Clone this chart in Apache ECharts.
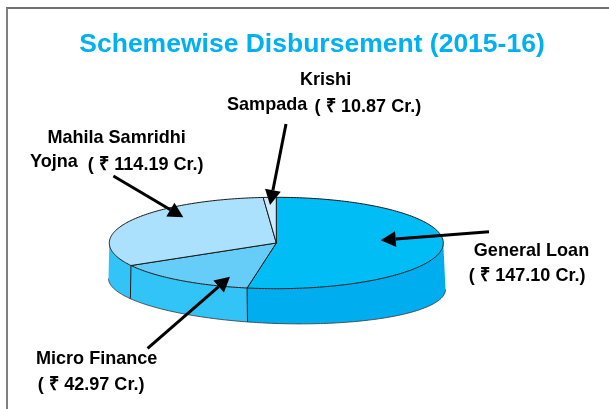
<!DOCTYPE html>
<html><head><meta charset="utf-8">
<style>html,body{margin:0;padding:0;background:#fff}#c{width:609px;height:409px}</style>
<script src="https://cdn.jsdelivr.net/npm/echarts@6/dist/echarts.min.js"></script>
</head><body><div id="c"></div>
<script>
const titleText = 'Schemewise Disbursement (2015-16)';
const categories = ['General Loan', 'Micro Finance', 'Mahila Samridhi Yojna', 'Krishi Sampada'];
// Amounts printed on the labels (Rs. crore)
const labelledAmounts = ['147.10', '42.97', '114.19', '10.87'];
// Slice sizes as actually drawn in the picture, percent of the full circle
const drawnShares = [52.8, 14.0, 31.95, 1.25];
const topColors = ['#00BDF6', '#66CDF8', '#ABE1FD', '#CDEDFC'];
const sideColors = ['#00AEEF', '#33C4F7', '#33C4F7', '#33C4F7'];

const FONT = '"Liberation Sans", Arial, sans-serif';
const upperE = {cx: 276.3, cy: 243, rx: 167, ry: 45.7};
const lowerE = {cx: 277, cy: 284, rx: 168.5, ry: 39.5, k: 5.5};
const rad = d => d * Math.PI / 180;
const upper = t => [upperE.cx + upperE.rx * Math.sin(rad(t)), upperE.cy - upperE.ry * Math.cos(rad(t))];
const lower = t => [lowerE.cx + lowerE.rx * Math.sin(rad(t)), lowerE.cy - lowerE.ry * Math.cos(rad(t)) + lowerE.k * Math.sin(rad(t))];
const range = (a, b) => { const o = []; for (let t = a; t < b; t += 1) o.push(t); o.push(b); return o; };
const LINE = {stroke: '#1a1a1a', lineWidth: 1};

function renderSlice(params, api) {
  const i = api.value(0);
  let start = 0;
  for (let j = 0; j < i; j++) start += drawnShares[j] * 3.6;
  const end = start + api.value(1) * 3.6;
  const children = [];
  const a = Math.max(start, 90), b = Math.min(end, 270);
  if (b > a) {
    const ts = range(a, b);
    children.push({type: 'polygon', z2: 1,
      shape: {points: ts.map(upper).concat(ts.slice().reverse().map(lower))},
      style: {fill: sideColors[i], stroke: 'none'}});
    children.push({type: 'polyline', z2: 2, shape: {points: ts.map(lower)},
      style: {fill: 'none', stroke: '#333', lineWidth: 0.8}});
    if (end < 270) children.push({type: 'line', z2: 2,
      shape: {x1: upper(end)[0], y1: upper(end)[1], x2: lower(end)[0], y2: lower(end)[1]}, style: LINE});
  }
  children.push({type: 'polygon', z2: 3 + i,
    shape: {points: [[upperE.cx, upperE.cy]].concat(range(start, end).map(upper))},
    style: Object.assign({fill: topColors[i]}, LINE)});
  return {type: 'group', children};
}

// Callout arrows: [from, tip]
const arrows = [
  [[286, 124], [270, 205]],
  [[113.4, 176], [183.3, 217.3]],
  [[489, 231.7], [380.7, 240.3]],
  [[147.6, 348.3], [230, 276.7]]
];
function arrow(p, q) {
  const L = Math.hypot(q[0]-p[0], q[1]-p[1]), ux = (q[0]-p[0])/L, uy = (q[1]-p[1])/L;
  const hl = 15, hw = 8, bx = q[0]-ux*hl, by = q[1]-uy*hl;
  return [
    {type: 'line', z: 20, shape: {x1: p[0], y1: p[1], x2: bx, y2: by}, style: {stroke: '#000', lineWidth: 3}},
    {type: 'polygon', z: 20, shape: {points: [q, [bx-uy*hw, by+ux*hw], [bx+uy*hw, by-ux*hw]]}, style: {fill: '#000'}}
  ];
}
const S = 0.95;
const notes = [
  ['Krishi', 300, 80], ['Sampada', 227, 105], ['( ₹ ' + labelledAmounts[3] + ' Cr.)', 314.5, 107],
  ['Mahila Samridhi', 47.4, 137.7], ['Yojna', 30, 161.7], ['( ₹ ' + labelledAmounts[2] + ' Cr.)', 87.8, 165],
  [categories[0], 473.8, 250.7], ['( ₹ ' + labelledAmounts[0] + ' Cr.)', 468.7, 276],
  [categories[1], 36, 359], ['( ₹ ' + labelledAmounts[1] + ' Cr.)', 37.7, 385]
].map(n => ({type: 'text', z: 30, x: n[1], y: n[2], scaleX: S,
  style: {text: n[0], fill: '#000', font: 'bold 19px ' + FONT, textVerticalAlign: 'middle', textAlign: 'left'}}));

const frame = [
  {type: 'line', shape: {x1: 6, y1: 8, x2: 609, y2: 8}, style: {stroke: '#404040', lineWidth: 1.5}},
  {type: 'line', shape: {x1: 7, y1: 8, x2: 7, y2: 409}, style: {stroke: '#808080', lineWidth: 2}}
];

const chart = echarts.init(document.getElementById('c'), null, {renderer: 'canvas'});
chart.setOption({
  animation: false,
  backgroundColor: '#fff',
  title: {text: titleText, left: 307, top: 26, textAlign: 'center',
    textStyle: {color: '#00B0F0', fontFamily: FONT, fontWeight: 'bold', fontSize: 26.5}},
  series: [{type: 'custom', coordinateSystem: 'none', silent: true, clip: false,
    encode: {value: 1},
    data: categories.map((c, i) => ({name: c, value: [i, drawnShares[i]]})),
    renderItem: renderSlice}],
  graphic: frame.concat(...arrows.map(a => arrow(a[0], a[1])), notes)
});
</script></body></html>
